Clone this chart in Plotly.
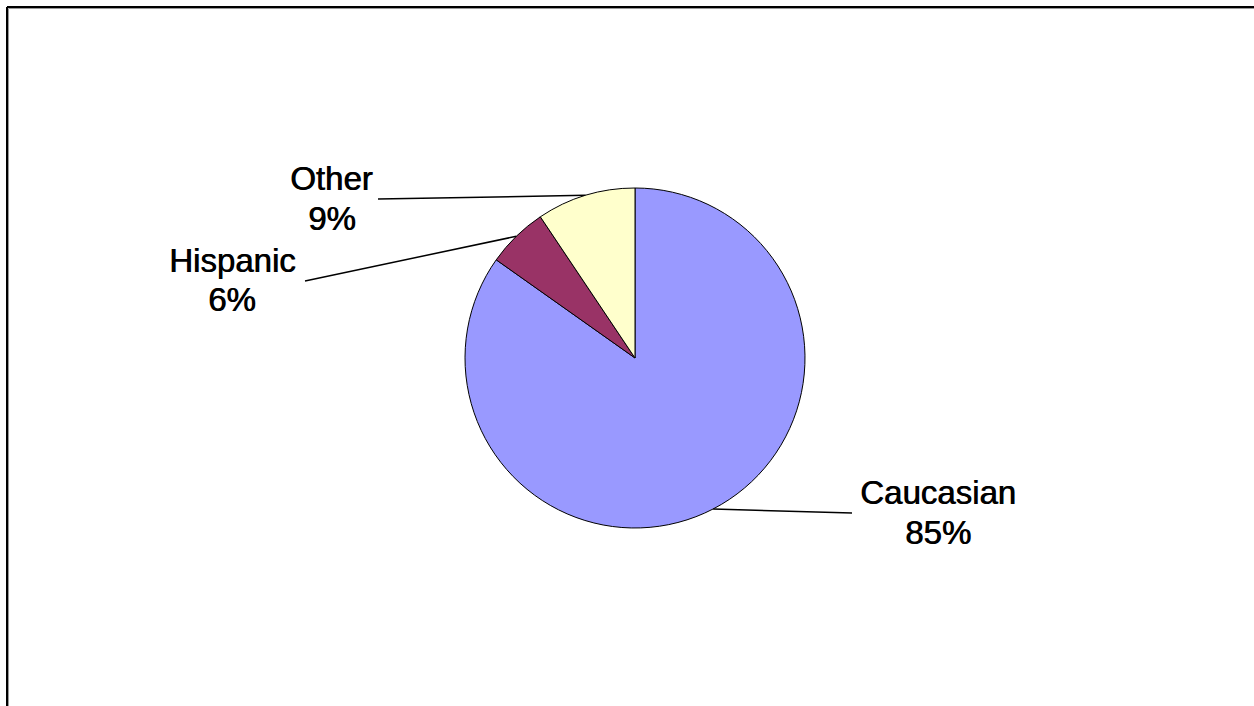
import math
import plotly.graph_objects as go

categories = ["Caucasian", "Hispanic", "Other"]
values = [84.8, 5.8, 9.4]
colors = ["#9999FF", "#993366", "#FFFFCC"]

W, H = 1254, 706
CX, CY, R = 635, 358, 170  # pie centre / radius in px


def px(x):
    return x / W


def py(y):
    return 1 - y / H


fig = go.Figure()
fig.add_trace(go.Pie(
    labels=categories,
    values=values,
    sort=False,
    direction="clockwise",
    rotation=0,
    marker=dict(colors=colors, line=dict(color="black", width=1)),
    textinfo="none",
    hoverinfo="label+percent",
    showlegend=False,
    domain=dict(x=[px(CX - R), px(CX + R)], y=[py(CY + R), py(CY - R)]),
))

# label anchor points (text placement) and leader-line ends
label_pos = {
    "Caucasian": dict(x=938, y1=492, y2=532, lx=852, ly=513),
    "Hispanic": dict(x=232, y1=260, y2=300, lx=305, ly=281),
    "Other": dict(x=332, y1=178, y2=218, lx=378, ly=199),
}

total = sum(values)
cum = 0.0
shapes = []
annotations = []
font = dict(family="Liberation Sans, Arial, sans-serif", size=33, color="black",
            shadow="0.7px 0 0 #000")
for cat, v in zip(categories, values):
    mid = (cum + v / 2) / total * 2 * math.pi
    cum += v
    sx = CX + R * math.sin(mid)
    sy = CY - R * math.cos(mid)
    p = label_pos[cat]
    shapes.append(dict(type="line", xref="paper", yref="paper",
                       x0=px(sx), y0=py(sy), x1=px(p["lx"]), y1=py(p["ly"]),
                       line=dict(color="black", width=1.5)))
    pct = f"{round(v / total * 100)}%"
    annotations.append(dict(x=px(p["x"]), y=py(p["y1"]), xref="paper", yref="paper",
                            text=cat, showarrow=False, font=font,
                            xanchor="center", yanchor="middle"))
    annotations.append(dict(x=px(p["x"]), y=py(p["y2"]), xref="paper", yref="paper",
                            text=pct, showarrow=False, font=font,
                            xanchor="center", yanchor="middle"))

# chart-area frame (top and left edges visible)
shapes += [
    dict(type="line", xref="paper", yref="paper", x0=px(7), y0=py(7), x1=1, y1=py(7),
         line=dict(color="black", width=2)),
    dict(type="line", xref="paper", yref="paper", x0=px(7), y0=py(7), x1=px(7), y1=0,
         line=dict(color="black", width=2)),
    dict(type="line", xref="paper", yref="paper", x0=px(8.5), y0=py(8.5), x1=1, y1=py(8.5),
         line=dict(color="#999999", width=1)),
    dict(type="line", xref="paper", yref="paper", x0=px(8.5), y0=py(8.5), x1=px(8.5), y1=0,
         line=dict(color="#999999", width=1)),
]

fig.update_layout(
    width=W, height=H,
    margin=dict(l=0, r=0, t=0, b=0),
    paper_bgcolor="white", plot_bgcolor="white",
    shapes=shapes, annotations=annotations,
)
fig.write_html("out.html", config={"displayModeBar": False},
               post_script="document.body.style.margin='0';document.body.style.overflow='hidden';")
